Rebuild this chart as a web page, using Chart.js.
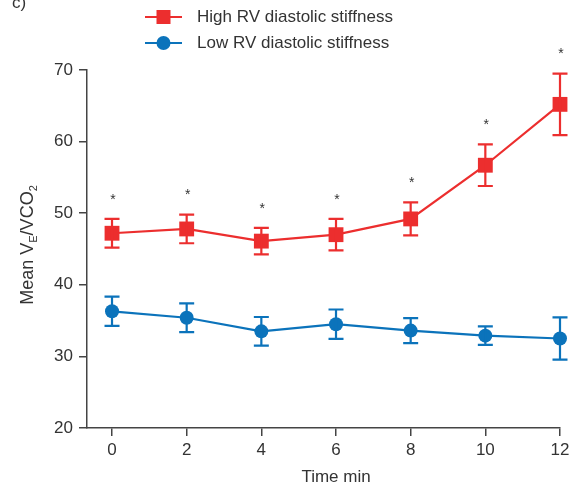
<!DOCTYPE html>
<html>
<head>
<meta charset="utf-8">
<script src="https://cdn.jsdelivr.net/npm/chart.js@4/dist/chart.umd.min.js"></script>
<style>
  html, body { margin: 0; padding: 0; background: #fff; }
  #wrap { width: 587px; height: 494px; position: relative; }
</style>
</head>
<body>
<div id="wrap"><canvas id="veChart" width="587" height="494"></canvas></div>
<script>
// time points (min)
const timeMin = [0, 2, 4, 6, 8, 10, 12]

// mean VE/VCO2 and error (+/-) per group
const highStiffMean = [47.2, 47.8, 46.1, 47.0, 49.2, 56.7, 65.2]
const highStiffErr  = [2.0, 2.0, 1.85, 2.2, 2.3, 2.9, 4.3]
const lowStiffMean  = [36.3, 35.4, 33.5, 34.5, 33.6, 32.9, 32.5]
const lowStiffErr   = [2.05, 2.0, 2.0, 2.05, 1.75, 1.3, 2.95]

// which time points carry a significance star
const starred = [true, true, true, true, true, true, true]

const yTicks = [20, 30, 40, 50, 60, 70]

const RED = '#ec2e2e'
const BLUE = '#0b73bb'
const AXIS = '#444'
const TEXT = '#333'
const FONT = '"Liberation Sans", Arial, sans-serif'

const toPoints = (means) => timeMin.map((t, i) => ({ x: t, y: means[i] }))

// error bars, stars, legend and axis titles
const extras = {
    id: 'extras',
    afterDatasetsDraw(chart) {
        const ctx = chart.ctx
        const xs = chart.scales.x
        const ys = chart.scales.y
        const groups = [
            { mean: highStiffMean, err: highStiffErr, color: RED },
            { mean: lowStiffMean, err: lowStiffErr, color: BLUE },
        ]
        ctx.save()
        for (const g of groups) {
            ctx.strokeStyle = g.color
            ctx.lineWidth = 2.2
            for (const i in timeMin) {
                const px = xs.getPixelForValue(timeMin[i])
                const top = ys.getPixelForValue(g.mean[i] + g.err[i])
                const bot = ys.getPixelForValue(g.mean[i] - g.err[i])
                ctx.beginPath()
                ctx.moveTo(px, top); ctx.lineTo(px, bot)
                ctx.moveTo(px - 7.5, top); ctx.lineTo(px + 7.5, top)
                ctx.moveTo(px - 7.5, bot); ctx.lineTo(px + 7.5, bot)
                ctx.stroke()
            }
        }
        // stars above the high-stiffness error bars
        ctx.fillStyle = TEXT
        ctx.font = '14px ' + FONT
        ctx.textAlign = 'center'
        ctx.textBaseline = 'middle'
        for (const i in timeMin) {
            if (!starred[i]) continue
            const px = xs.getPixelForValue(timeMin[i])
            const top = ys.getPixelForValue(highStiffMean[i] + highStiffErr[i])
            ctx.fillText('*', px + 1, top - 19)
        }
        ctx.restore()
    },
    afterDraw(chart) {
        const ctx = chart.ctx
        const xs = chart.scales.x
        const ys = chart.scales.y
        ctx.save()
        ctx.fillStyle = TEXT

        // panel letter
        ctx.font = '17px ' + FONT
        ctx.textAlign = 'left'
        ctx.textBaseline = 'alphabetic'
        ctx.fillText('c)', 12, 8)

        // legend
        const rows = [
            { label: 'High RV diastolic stiffness', color: RED, y: 17, shape: 'rect' },
            { label: 'Low RV diastolic stiffness', color: BLUE, y: 43, shape: 'circle' },
        ]
        for (const r of rows) {
            ctx.strokeStyle = r.color
            ctx.fillStyle = r.color
            ctx.lineWidth = 2.2
            ctx.beginPath()
            ctx.moveTo(145, r.y); ctx.lineTo(182, r.y)
            ctx.stroke()
            if (r.shape === 'rect') {
                ctx.fillRect(163.5 - 7, r.y - 7, 14, 14)
            } else {
                ctx.beginPath()
                ctx.arc(163.5, r.y, 7, 0, Math.PI * 2)
                ctx.fill()
            }
            ctx.fillStyle = TEXT
            ctx.font = '17px ' + FONT
            ctx.textBaseline = 'middle'
            ctx.fillText(r.label, 197, r.y)
        }

        // x title, centred on the tick span
        ctx.font = '17px ' + FONT
        ctx.textAlign = 'center'
        ctx.textBaseline = 'middle'
        const xMid = (xs.getPixelForValue(timeMin[0]) + xs.getPixelForValue(timeMin[timeMin.length - 1])) / 2
        ctx.fillText('Time min', xMid, 477)

        // y title with subscripts, rotated
        const yMid = (ys.top + ys.bottom) / 2 - 4
        ctx.translate(27, yMid)
        ctx.rotate(-Math.PI / 2)
        const parts = [
            { t: 'Mean V', sub: false },
            { t: 'E', sub: true },
            { t: '/VCO', sub: false },
            { t: '2', sub: true },
        ]
        const mainFont = '18px ' + FONT
        const subFont = '11px ' + FONT
        let total = 0
        for (const p of parts) {
            ctx.font = p.sub ? subFont : mainFont
            total += ctx.measureText(p.t).width
        }
        let x = -total / 2
        ctx.textAlign = 'left'
        ctx.textBaseline = 'alphabetic'
        for (const p of parts) {
            ctx.font = p.sub ? subFont : mainFont
            ctx.fillText(p.t, x, p.sub ? 10 : 6)
            x += ctx.measureText(p.t).width
        }
        ctx.restore()
    }
}

const ctx = document.getElementById('veChart')
new Chart(ctx, {
    type: 'line',
    data: {
        datasets: [
            {
                label: 'High RV diastolic stiffness',
                data: toPoints(highStiffMean),
                borderColor: RED,
                backgroundColor: RED,
                borderWidth: 2.2,
                pointStyle: 'rect',
                pointRadius: 10.5,
                pointHoverRadius: 10.5,
                pointBorderWidth: 0,
                tension: 0,
                clip: false,
            },
            {
                label: 'Low RV diastolic stiffness',
                data: toPoints(lowStiffMean),
                borderColor: BLUE,
                backgroundColor: BLUE,
                borderWidth: 2.2,
                pointStyle: 'circle',
                pointRadius: 7,
                pointHoverRadius: 7,
                pointBorderWidth: 0,
                tension: 0,
                clip: false,
            },
        ]
    },
    options: {
        responsive: false,
        animation: false,
        events: [],
        layout: { padding: { left: 47, right: 27, top: 70, bottom: 26 } },
        plugins: { legend: { display: false }, tooltip: { enabled: false } },
        scales: {
            x: {
                type: 'linear',
                min: -0.67,
                max: 12,
                afterBuildTicks: (s) => { s.ticks = timeMin.map(v => ({ value: v })) },
                afterFit: (s) => { s.height = 40 },
                ticks: { color: TEXT, font: { family: FONT, size: 17 }, padding: 4, maxRotation: 0 },
                grid: { drawOnChartArea: false, drawTicks: true, tickLength: 8, color: AXIS, lineWidth: 1.5 },
                border: { display: true, color: AXIS, width: 1.5 },
            },
            y: {
                min: 20,
                max: 70,
                afterBuildTicks: (s) => { s.ticks = yTicks.map(v => ({ value: v })) },
                afterFit: (s) => { s.width = 40 },
                ticks: { color: TEXT, font: { family: FONT, size: 17 }, padding: 6 },
                grid: { drawOnChartArea: false, drawTicks: true, tickLength: 8, color: AXIS, lineWidth: 1.5 },
                border: { display: true, color: AXIS, width: 1.5 },
            }
        }
    },
    plugins: [extras]
})
</script>
</body>
</html>
